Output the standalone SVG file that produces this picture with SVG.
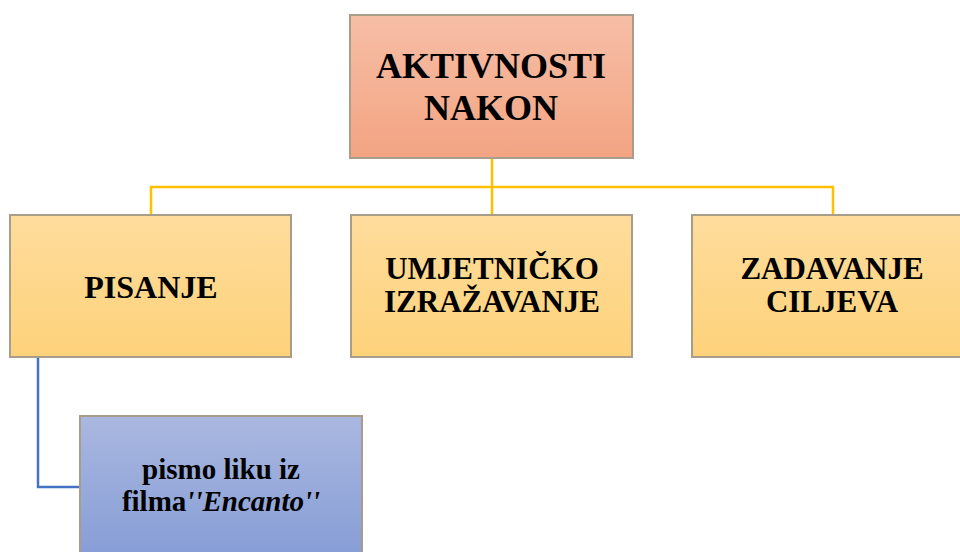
<svg xmlns="http://www.w3.org/2000/svg" width="960" height="552" viewBox="0 0 960 552">
<defs>
<linearGradient id="gTop" x1="0" y1="0" x2="0" y2="1"><stop offset="0" stop-color="#f6bea6"/><stop offset="1" stop-color="#f3a482"/></linearGradient>
<linearGradient id="gMid" x1="0" y1="0" x2="0" y2="1"><stop offset="0" stop-color="#fedc9c"/><stop offset="1" stop-color="#fdd27a"/></linearGradient>
<linearGradient id="gBlue" x1="0" y1="0" x2="0" y2="1"><stop offset="0" stop-color="#aab8e0"/><stop offset="1" stop-color="#869dd6"/></linearGradient>
</defs>
<style>
.box{stroke:#a89c8a;stroke-width:2}
.t{font-family:"Liberation Serif","Times New Roman",serif;font-weight:bold;fill:#000;text-anchor:middle}
.cy{fill:none;stroke:#ffc000;stroke-width:2.5}
.cb{fill:none;stroke:#4472c4;stroke-width:2.5}
</style>
<rect width="960" height="552" fill="#fff"/>
<g id="connectors">
<path class="cy" d="M492 158V187M151 215V187H833V215M492 187V215"/>
<path class="cb" d="M38 357V487H80"/>
</g>
<g id="n-top">
<rect class="box" x="350" y="15" width="283" height="143" fill="url(#gTop)"/>
<text class="t" x="491" y="78" font-size="36">AKTIVNOSTI</text>
<text class="t" x="491" y="120" font-size="36">NAKON</text>
</g>
<g id="n-pisanje">
<rect class="box" x="10" y="215" width="281" height="142" fill="url(#gMid)"/>
<text class="t" x="151" y="298" font-size="32">PISANJE</text>
</g>
<g id="n-umj">
<rect class="box" x="351" y="215" width="281" height="142" fill="url(#gMid)"/>
<text class="t" x="492" y="279" font-size="31">UMJETNIČKO</text>
<text class="t" x="492" y="312" font-size="31">IZRAŽAVANJE</text>
</g>
<g id="n-cilj">
<rect class="box" x="692" y="215" width="282" height="142" fill="url(#gMid)"/>
<text class="t" x="832" y="279" font-size="31">ZADAVANJE</text>
<text class="t" x="832" y="312" font-size="31">CILJEVA</text>
</g>
<g id="n-pismo">
<rect class="box" x="80" y="416" width="282" height="142" fill="url(#gBlue)"/>
<text class="t" x="221" y="479" font-size="29">pismo liku iz</text>
<text class="t" x="221" y="511" font-size="29">filma<tspan font-style="italic">''Encanto''</tspan></text>
</g>
</svg>
